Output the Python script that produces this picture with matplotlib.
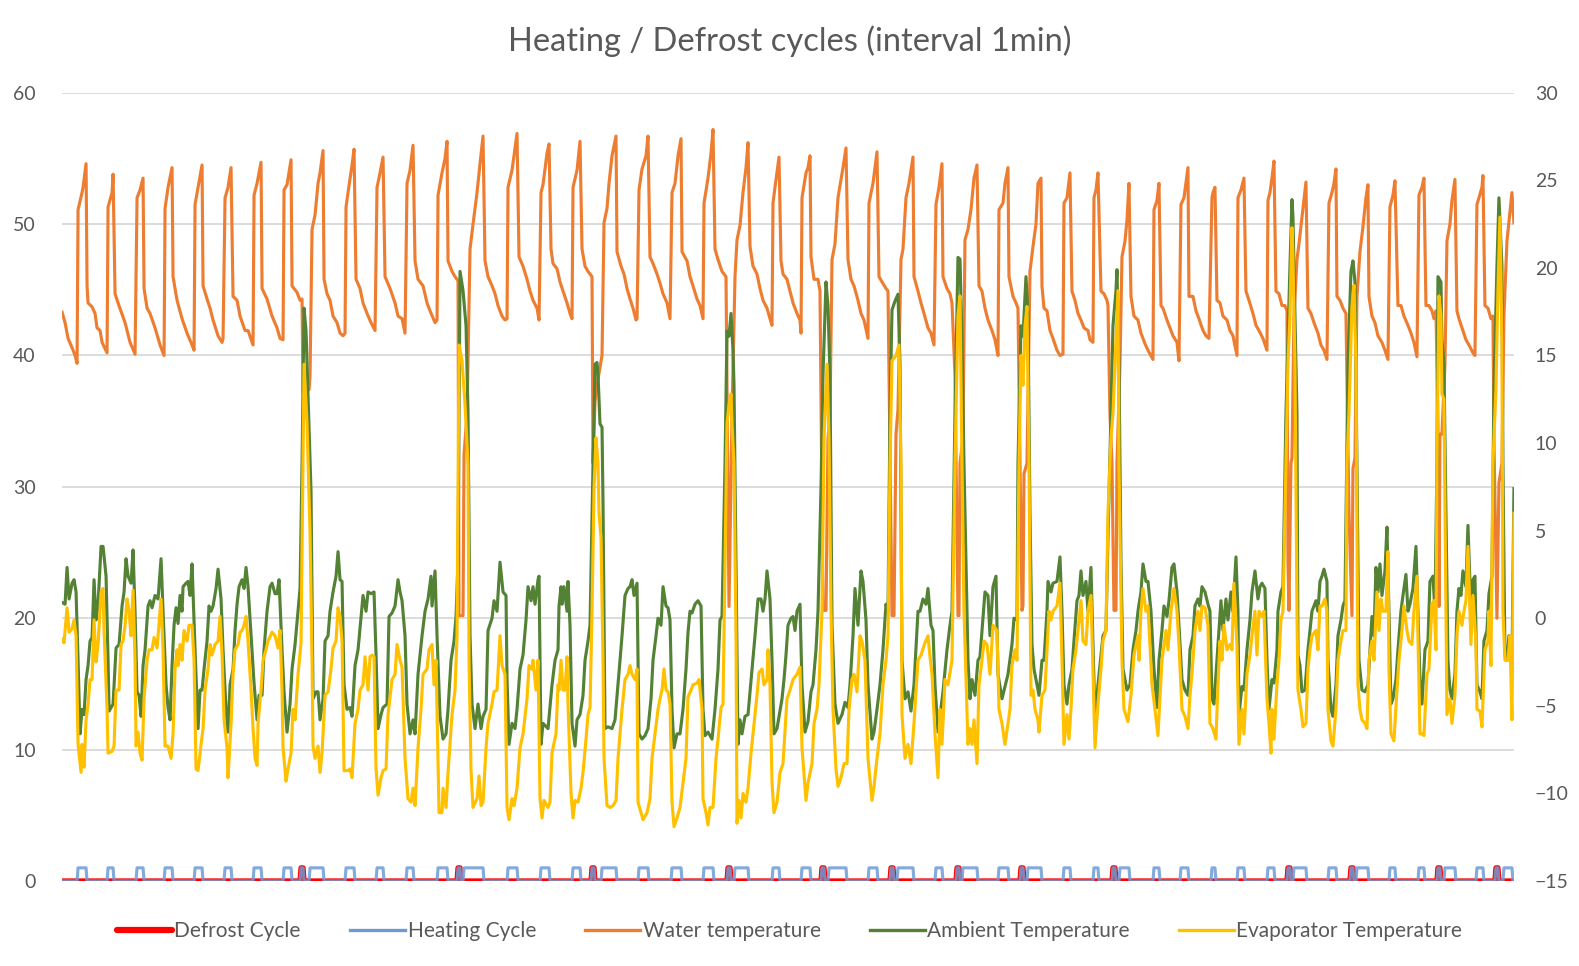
import numpy as np
import matplotlib
matplotlib.use("Agg")
import matplotlib.pyplot as plt
from matplotlib.lines import Line2D

plt.rcParams['font.family'] = ['Lato', 'DejaVu Sans']

# ==============================
# DATA (minute index, value)
# ==============================

N_MINUTES = 1452

# water temperature, left axis (degC)
water = [
    (0, 43.3), (3, 42.5), (6, 41.3), (10, 40.6), (13, 40.0), (15, 39.4),
    (16, 51.1), (20, 52.4), (21, 52.8), (24, 54.6),
    (25, 45.3), (26, 44.0), (30, 43.7), (33, 43.2), (35, 42.1), (38, 41.9), (40, 41.0), (45, 40.2),
    (46, 51.3), (50, 52.4), (51, 53.8),
    (53, 44.7), (56, 44.0), (63, 42.5), (68, 41.0), (73, 40.1),
    (75, 52.0), (78, 52.6), (81, 53.5),
    (82, 45.1), (85, 43.6), (88, 43.2), (93, 42.1), (98, 40.8), (102, 40.0),
    (103, 51.2), (106, 52.8), (110, 54.3),
    (111, 46.0), (115, 44.2), (120, 42.8), (125, 41.7), (130, 40.8), (132, 40.4),
    (133, 51.5), (136, 52.8), (140, 54.5),
    (141, 45.3), (145, 44.3), (148, 43.6), (151, 42.7), (156, 41.5), (160, 41.0), (161, 41.3),
    (163, 52.0), (166, 52.8), (169, 54.3),
    (171, 44.5), (175, 44.2), (178, 43.0), (183, 41.9), (186, 41.9), (190, 41.0), (191, 40.8),
    (192, 52.2), (195, 53.1), (199, 54.7),
    (200, 45.1), (205, 44.3), (210, 43.0), (215, 42.1), (218, 41.3), (221, 41.2),
    (222, 52.6), (225, 53.0), (229, 54.9),
    (230, 45.3), (235, 44.8), (238, 44.2), (240, 44.3),
    (241, 37.2), (247, 37.4), (248, 38.5), (250, 49.6), (253, 50.7), (256, 53.1), (258, 53.9), (261, 55.6),
    (262, 45.8), (265, 44.7), (268, 44.2), (271, 43.0), (275, 42.5), (278, 41.7), (281, 41.5), (283, 41.7),
    (284, 51.3), (286, 52.4), (290, 54.5), (292, 55.7),
    (294, 45.8), (298, 45.1), (301, 44.0), (305, 43.2), (309, 42.5), (313, 41.9),
    (315, 52.8), (318, 53.9), (321, 55.1),
    (323, 46.0), (328, 45.1), (333, 44.0), (336, 43.0), (340, 42.8), (343, 41.7),
    (345, 53.1), (348, 54.1), (351, 56.0),
    (353, 47.2), (356, 45.8), (361, 45.3), (365, 44.0), (368, 43.4), (373, 42.5), (375, 42.7),
    (376, 52.2), (380, 53.9), (383, 55.0), (385, 56.3),
    (386, 47.2), (390, 46.4), (393, 46.0), (396, 45.7),
    (397, 20.2), (401, 20.2), (402, 32.5), (405, 35.5), (408, 48.1), (411, 50.0), (415, 52.4), (418, 54.6), (421, 56.7),
    (423, 47.2), (426, 46.0), (430, 45.3), (433, 44.7), (436, 43.8), (440, 43.0), (443, 42.7), (445, 42.8),
    (446, 52.8), (450, 54.1), (453, 55.8), (455, 56.9),
    (457, 47.5), (461, 46.8), (465, 45.8), (468, 44.9), (471, 44.2), (475, 43.6), (477, 42.7),
    (479, 52.4), (481, 53.0), (485, 55.4), (487, 56.1),
    (489, 48.1), (491, 47.0), (495, 46.6), (498, 45.6), (501, 44.9), (505, 44.0), (508, 43.2), (510, 42.8),
    (511, 52.8), (515, 54.1), (518, 56.3),
    (520, 48.1), (523, 46.8), (526, 46.4), (530, 46.0),
    (531, 31.8), (533, 36.5), (536, 38.2), (540, 40.0), (542, 50.1), (545, 51.2), (547, 53.1), (550, 55.2), (554, 56.7),
    (555, 47.9), (559, 46.8), (562, 46.2), (565, 45.1), (568, 44.3), (571, 43.6), (574, 42.7), (575, 42.8),
    (577, 52.6), (580, 54.2), (584, 55.2), (586, 56.7),
    (588, 47.5), (591, 47.0), (595, 46.2), (598, 45.5), (601, 44.7), (605, 44.0), (608, 42.8),
    (610, 52.4), (613, 53.1), (616, 55.2), (619, 56.5),
    (620, 47.9), (625, 47.2), (628, 46.0), (631, 45.3), (635, 44.3), (638, 43.8), (641, 42.8),
    (642, 51.6), (646, 53.5), (649, 55.4), (651, 57.2),
    (653, 48.1), (656, 47.3), (660, 46.4), (664, 46.0),
    (667, 20.9), (670, 35.5), (673, 46.0), (675, 48.8), (678, 49.9), (681, 52.4), (684, 54.3), (686, 56.2),
    (688, 48.3), (691, 46.8), (695, 46.2), (698, 45.1), (701, 44.2), (705, 43.6), (708, 42.8), (710, 42.3),
    (711, 51.6), (713, 52.8), (717, 55.1),
    (719, 47.2), (721, 46.2), (725, 45.8), (728, 44.9), (731, 44.0), (735, 43.2), (738, 42.7), (739, 41.7),
    (740, 52.0), (744, 53.9), (746, 54.3), (748, 55.2),
    (749, 47.5), (752, 45.8), (756, 45.8), (758, 44.9),
    (761, 20.6), (764, 20.6), (766, 33.7), (768, 35.5), (770, 47.3), (773, 48.5), (776, 52.0), (781, 54.3), (784, 55.8),
    (786, 47.3), (789, 45.8), (792, 45.3), (796, 44.2), (799, 43.2), (802, 42.7), (806, 41.3),
    (807, 51.6), (811, 53.1), (813, 54.3), (815, 55.5),
    (817, 46.0), (820, 45.6), (824, 45.1), (826, 44.9),
    (830, 20.2), (832, 20.2), (834, 34.0), (836, 35.9), (839, 47.3), (841, 48.1), (844, 52.0), (847, 53.1), (851, 55.1),
    (852, 46.0), (856, 44.9), (859, 44.0), (862, 43.2), (866, 42.1), (869, 41.7), (872, 40.8),
    (874, 51.5), (877, 52.8), (880, 54.6),
    (881, 46.0), (885, 45.1), (888, 44.7), (890, 44.0),
    (893, 38.5), (896, 20.2), (897, 20.2), (898, 31.8), (901, 33.7), (903, 48.8), (906, 49.6), (909, 51.1), (912, 53.5), (915, 54.5),
    (917, 45.3), (920, 44.9), (923, 43.6), (926, 42.7), (930, 41.9), (933, 41.2), (936, 40.0),
    (937, 51.1), (941, 51.6), (943, 53.1), (946, 54.3),
    (947, 46.0), (951, 44.5), (954, 44.0), (956, 43.6),
    (960, 20.6), (961, 21.0), (962, 31.0), (965, 31.8), (968, 46.4), (971, 48.3), (974, 50.0), (976, 53.1), (979, 53.5),
    (980, 45.3), (982, 43.6), (985, 43.4), (988, 41.9), (991, 41.3), (995, 40.4), (998, 40.0), (1001, 40.1),
    (1002, 51.6), (1005, 52.0), (1008, 53.9),
    (1010, 44.9), (1013, 44.2), (1016, 43.2), (1019, 42.7), (1022, 42.1), (1026, 41.9), (1028, 41.2), (1031, 41.0),
    (1032, 52.0), (1034, 52.6), (1036, 53.9),
    (1039, 44.9), (1042, 44.7), (1045, 44.2), (1046, 43.8),
    (1048, 35.5), (1050, 31.8), (1052, 20.6), (1054, 20.6), (1055, 31.8), (1058, 39.3), (1060, 47.5), (1063, 48.7), (1065, 50.3), (1067, 53.1),
    (1069, 44.5), (1072, 43.0), (1076, 42.7), (1079, 41.7), (1083, 40.9), (1086, 40.4), (1091, 39.7),
    (1092, 51.1), (1095, 51.8), (1097, 53.1),
    (1099, 43.8), (1101, 43.6), (1105, 42.7), (1108, 42.1), (1111, 41.5), (1115, 41.0), (1117, 39.6),
    (1119, 51.5), (1122, 52.0), (1126, 54.3),
    (1127, 44.5), (1131, 44.5), (1134, 43.4), (1137, 42.8), (1141, 41.9), (1144, 41.5), (1147, 41.3),
    (1150, 52.0), (1151, 52.4), (1153, 52.8),
    (1155, 44.2), (1158, 44.0), (1161, 43.0), (1165, 42.7), (1168, 41.9), (1171, 41.5), (1175, 40.0),
    (1176, 52.0), (1179, 52.6), (1182, 53.5),
    (1184, 44.9), (1187, 44.2), (1191, 43.2), (1194, 42.3), (1197, 41.9), (1201, 41.3), (1205, 40.4),
    (1206, 51.8), (1208, 52.4), (1210, 53.5), (1212, 54.8),
    (1214, 44.9), (1217, 44.7), (1220, 43.8), (1223, 43.8), (1225, 43.4),
    (1226, 24.3), (1227, 20.6), (1229, 31.8), (1230, 32.2), (1232, 43.0), (1235, 47.3), (1237, 48.5), (1240, 50.5), (1244, 53.2),
    (1246, 43.6), (1249, 43.2), (1252, 42.5), (1256, 41.7), (1259, 40.8), (1262, 40.4), (1265, 39.7),
    (1267, 51.6), (1270, 52.4), (1272, 53.1), (1274, 54.2),
    (1275, 44.5), (1278, 44.2), (1281, 43.6), (1284, 43.2),
    (1287, 28.1), (1290, 20.2), (1291, 31.4), (1293, 32.2), (1295, 44.5), (1298, 47.9), (1301, 49.8), (1304, 52.0), (1306, 53.0),
    (1307, 44.5), (1310, 43.0), (1313, 42.5), (1316, 41.5), (1320, 41.0), (1323, 40.4), (1326, 39.7),
    (1328, 51.3), (1331, 52.2), (1333, 53.3),
    (1336, 43.8), (1339, 43.8), (1342, 43.0), (1346, 42.3), (1349, 41.7), (1352, 41.0), (1355, 39.9),
    (1357, 52.2), (1360, 52.8), (1362, 53.5),
    (1364, 43.8), (1367, 43.8), (1370, 43.4), (1372, 42.8), (1374, 43.4),
    (1376, 34.8), (1377, 20.9), (1378, 34.0), (1380, 34.0), (1383, 39.3), (1385, 48.7), (1388, 50.0), (1390, 51.8), (1393, 53.4),
    (1395, 43.4), (1397, 42.8), (1401, 41.9), (1404, 41.2), (1407, 40.8), (1411, 40.2), (1413, 40.0),
    (1415, 51.5), (1417, 52.0), (1420, 52.8), (1421, 53.7),
    (1423, 43.8), (1426, 43.6), (1429, 42.8), (1431, 43.0),
    (1432, 33.7), (1435, 20.0), (1437, 30.3), (1440, 31.8), (1442, 43.0), (1445, 48.7), (1448, 50.9), (1450, 52.4), (1452, 50.1),
]

# ambient temperature, right axis (degC)
ambient = [
    (0, 0.9), (3, 0.8), (5, 2.9), (7, 1.1), (10, 2.0), (12, 2.2), (14, 1.5), (16, -2.4), (18, -6.6), (20, -5.2),
    (22, -5.5), (24, -3.5), (26, -2.7), (28, -1.3), (30, -1.1), (32, 2.2), (34, -0.1), (36, 0.8), (39, 4.1), (41, 4.1),
    (44, 2.4), (46, -2.4), (47, -5.3), (51, -4.9), (54, -1.7), (57, -1.5), (60, 0.7), (62, 1.5), (64, 3.4), (66, 2.4),
    (69, 2.0), (71, 3.9), (73, 0.4), (75, -4.2), (77, -4.4), (79, -5.6), (81, -2.7), (83, -1.8), (86, 0.7), (88, 1.0),
    (90, 0.6), (93, 1.3), (96, 1.1), (99, 3.4), (101, 0.4), (104, -3.8), (106, -5.1), (108, -5.8), (110, -2.7), (112, -0.4),
    (114, 0.6), (116, -0.3), (118, 1.3), (120, 0.4), (121, 1.8), (124, 2.0), (126, 2.1), (128, 1.3), (130, 3.1), (133, -1.8),
    (136, -6.3), (138, -4.1), (140, -4.1), (142, -2.9), (145, -1.3), (147, 0.7), (149, 0.4), (151, 0.7), (154, 1.7), (156, 2.8),
    (159, 1.1), (161, -1.8), (164, -5.2), (166, -6.5), (168, -3.8), (171, -2.9), (173, -0.7), (175, 0.8), (177, 1.8), (180, 2.2),
    (182, 1.7), (184, 2.9), (186, 1.8), (190, -1.8), (192, -3.7), (195, -5.8), (197, -4.4), (200, -4.4), (202, -1.8), (205, 0.4),
    (208, 1.8), (210, 2.0), (213, 1.4), (215, 1.4), (217, 2.2), (220, -1.8), (222, -4.2), (225, -6.5), (228, -4.9), (230, -2.9),
    (233, -1.5), (236, 0.4), (238, 1.7),
    (240, 8.8), (242, 17.7), (244, 16.4), (246, 12.8), (249, 7.2), (251, -4.6), (254, -4.2), (256, -4.2), (258, -5.8), (261, -4.6),
    (263, -1.3), (266, -1.0), (268, 0.4), (271, 1.5), (274, 2.4), (276, 3.8), (278, 2.2), (280, 2.1), (282, -3.8), (285, -5.2),
    (288, -5.1), (290, -5.6), (293, -2.7), (296, -1.8), (299, 0.1), (301, 1.3), (304, 0.4), (306, 1.5), (309, 1.4), (312, 1.5),
    (314, -2.1), (316, -6.3), (319, -5.5), (321, -5.1), (325, -4.9), (327, 0.1), (330, 0.3), (333, 0.7), (336, 2.2), (338, 1.5),
    (340, 1.0), (343, -1.0), (345, -4.9), (348, -6.6), (351, -5.8), (353, -6.6), (356, -3.2), (358, -2.1), (360, -1.0), (363, 0.4),
    (366, 1.1), (369, 2.4), (370, 0.7), (373, 2.7), (375, -1.0), (378, -5.6), (381, -6.9), (384, -6.6), (386, -5.2), (389, -2.4),
    (392, -1.3), (394, 0.1), (396, 3.2), (398, 19.8), (401, 18.7), (404, 16.7), (406, 11.7), (408, -1.0), (410, -4.9), (413, -6.3),
    (416, -4.9), (419, -6.3), (421, -5.6), (424, -5.2), (426, -0.7), (430, 0.0), (432, 1.0), (435, 0.4), (438, 3.2), (441, 1.5),
    (444, 1.3), (445, -3.5), (447, -7.2), (450, -6.0), (453, -6.3), (455, -5.2), (458, -2.9), (461, -2.1), (464, -0.1), (466, 1.8),
    (469, 1.0), (471, 1.8), (473, 0.8), (476, 2.2), (477, 2.4),
    (479, -7.2), (481, -6.0), (486, -6.3), (490, -3.8), (493, -2.4), (496, -1.8), (497, 0.7), (499, 1.8), (500, 0.8), (502, 1.8),
    (505, 0.4), (506, 2.1), (508, -0.4), (510, -6.0), (513, -7.3), (515, -5.8), (518, -5.5), (521, -4.4), (523, -2.4), (526, -1.3),
    (528, -0.4), (531, 8.8), (533, 14.5), (535, 14.6), (536, 13.9), (538, 11.1), (540, 10.9), (541, 6.6), (543, -6.3), (546, -6.2),
    (550, -6.3), (553, -5.8), (556, -3.8), (558, -2.4), (560, -1.0), (563, 1.3), (566, 1.7), (568, 1.8), (570, 2.2), (572, 1.3),
    (575, 2.0), (577, -6.6), (580, -6.9), (583, -6.7), (586, -6.3), (589, -4.6), (591, -2.4), (594, -1.0), (596, 0.0), (599, -0.4),
    (601, 1.8), (604, 0.7), (606, 0.6), (608, -0.1), (610, -5.2), (612, -7.4), (615, -6.6), (618, -6.6), (621, -5.2), (624, -2.9),
    (626, -0.8), (628, 0.4), (630, 0.3), (633, 0.8), (636, 1.0), (639, 0.7), (641, -5.2), (643, -6.7), (646, -6.5), (650, -6.9),
    (653, -5.2), (656, -2.9), (658, -0.1), (660, 0.1), (663, 8.8), (665, 16.4), (667, 16.1), (669, 17.4), (671, 15.3), (672, 13.3),
    (674, 3.2), (676, -7.2), (678, -5.8), (680, -6.6), (683, -5.6), (686, -5.5), (690, -2.9), (693, -1.0), (696, 1.1), (699, 1.1),
    (701, 0.4), (703, 1.1), (705, 2.7), (708, 1.1), (710, -2.4), (712, -6.6), (715, -6.3),
    (720, -4.6), (722, -3.5), (724, -2.1), (726, -0.4), (729, 0.0), (731, 0.1), (733, -0.7), (735, 0.4), (738, 0.8), (740, -3.8),
    (743, -6.5), (746, -5.9), (749, -4.2), (751, -3.8), (754, -1.8), (756, 0.4), (759, 7.4), (761, 13.9), (764, 19.2), (766, 17.8),
    (768, 13.9), (770, -0.4), (773, -4.9), (776, -6.0), (780, -5.5), (783, -4.8), (786, -5.1), (788, -3.8), (791, -1.0), (793, 1.7),
    (796, -0.4), (799, 2.7), (801, 2.1), (804, -0.1), (806, -3.8), (810, -6.9), (812, -6.5), (815, -5.2), (818, -3.8), (821, -1.8),
    (824, 0.8), (826, 0.4), (828, 11.7), (830, 17.6), (833, 18.1), (836, 18.5), (838, 14.5), (840, -2.4), (843, -4.6), (846, -4.2),
    (849, -5.3), (852, -3.8), (856, 0.4), (858, 0.4), (861, 1.1), (864, 0.8), (866, 1.7), (869, -0.4), (871, -0.7), (873, -3.8),
    (876, -6.5), (879, -5.1), (881, -4.2), (885, -1.8), (888, -0.4), (890, 0.4), (893, 11.7), (896, 20.6), (898, 20.5), (900, 15.9),
    (902, 8.8), (906, -2.4), (908, -4.6), (910, -3.5), (913, -4.4), (916, -2.4), (918, -2.2), (920, -0.7), (923, 1.5), (926, 1.3),
    (928, -1.0), (931, 1.8), (934, 2.4), (936, -3.2), (940, -4.6), (943, -3.9), (946, -3.2), (950, -1.5), (952, 0.0), (955, -0.1),
    (956, 8.8), (959, 16.7), (961, 16.1), (964, 19.5), (966, 17.3), (968, 6.0), (970, -1.5), (972, -2.9), (975, -3.8), (977, -4.4),
    (980, -2.4), (982, -2.4), (985, 0.4), (986, 2.1), (989, 1.5), (991, 2.0), (995, 2.1), (998, 3.5), (1000, 0.4), (1002, -3.8),
    (1005, -4.9), (1007, -3.8), (1010, -2.9), (1012, -1.3), (1015, 1.0), (1017, 1.3), (1019, 2.7), (1021, 1.3), (1024, 2.1), (1026, 0.4),
    (1029, 2.9), (1031, -1.5), (1033, -5.8), (1036, -3.8), (1039, -2.1), (1041, -1.0), (1044, -0.7), (1046, 4.6), (1049, 11.7), (1051, 16.7),
    (1054, 18.7), (1055, 19.9), (1057, 14.5), (1059, 3.2), (1061, -2.9), (1065, -4.1), (1068, -3.8), (1071, -1.8), (1074, -0.7), (1076, 0.4),
    (1079, 1.5), (1081, 3.1), (1084, 2.1), (1086, 2.1), (1089, 0.4), (1092, -2.9), (1095, -5.1), (1097, -2.4), (1100, -0.7), (1102, 0.7),
    (1105, 0.1), (1107, 1.0), (1110, 2.9), (1112, 3.1), (1115, 1.5), (1117, -0.4), (1120, -3.5), (1123, -4.1), (1126, -4.4), (1128, -1.8),
    (1131, -1.0), (1133, 0.7), (1136, 1.1), (1138, 0.7), (1140, 1.8), (1143, 1.5), (1146, 0.8), (1148, 0.4), (1150, -4.6), (1152, -4.9),
    (1155, -2.4), (1157, -0.7), (1159, 1.0), (1161, -0.7), (1164, 1.1), (1166, -0.1), (1169, 1.5), (1171, 0.4), (1174, 3.5), (1176, 0.4),
    (1177, -5.5), (1180, -3.9), (1182, -4.1), (1185, -1.8), (1188, -0.1), (1190, 1.5), (1193, 2.7),
    (1196, 1.1), (1198, 1.8), (1200, 2.0), (1203, 1.7), (1205, -2.4), (1207, -5.2), (1210, -3.5), (1212, -3.7), (1215, -1.8), (1216, 0.4),
    (1219, 1.5), (1221, 1.8), (1224, 11.7), (1226, 15.9), (1228, 20.1), (1230, 23.9), (1231, 22.9), (1233, 17.3), (1235, 11.7), (1236, -2.1),
    (1238, -2.7), (1240, -4.2), (1243, -4.1), (1246, -1.8), (1248, -0.7), (1250, 0.4), (1254, 1.0), (1256, 0.4), (1258, 2.1), (1260, 2.4),
    (1262, 2.8), (1265, 2.1), (1266, -2.4), (1269, -5.2), (1271, -5.6), (1274, -3.8), (1276, -1.0), (1279, -0.1), (1281, 0.7), (1283, 1.0),
    (1285, 10.3), (1286, 14.5), (1289, 19.8), (1291, 20.4), (1293, 19.2), (1295, 8.8), (1297, -2.4), (1300, -4.1), (1303, -4.2), (1306, -3.8),
    (1308, -1.8), (1310, 0.1), (1312, -1.0), (1314, 2.9), (1316, 1.5), (1318, 3.1), (1320, 1.3), (1323, 2.7), (1325, 5.2), (1327, 0.4),
    (1329, -4.9), (1331, -4.6), (1334, -3.5), (1336, -1.8), (1339, 0.4), (1341, 1.3), (1344, 2.5), (1346, 0.4), (1348, 0.8), (1351, 1.7),
    (1354, 4.1), (1356, 0.4), (1358, -3.5), (1360, -4.9), (1363, -1.8), (1366, -1.3), (1368, 2.1), (1371, 2.4), (1373, 0.4), (1375, 8.8),
    (1376, 19.5), (1379, 19.2), (1380, 15.9), (1382, 14.5), (1384, 6.0), (1386, -2.4), (1388, -4.1), (1390, -4.6), (1393, -3.2), (1395, 0.4),
    (1397, 1.7), (1399, 1.3), (1401, 2.7), (1404, 1.8), (1406, 5.3), (1409, 0.4), (1411, 2.2), (1413, 2.4), (1415, -3.8), (1418, -4.2),
    (1420, -4.6), (1422, -1.3), (1425, -0.7), (1427, 1.4), (1430, 2.4), (1432, 13.1), (1435, 20.1), (1437, 24.0), (1440, 20.1), (1441, 8.8),
    (1443, -2.1), (1445, -2.4), (1447, -1.0), (1450, -2.9), (1452, 7.4),
]

# evaporator temperature, right axis (degC)
evaporator = [
    (0, -1.2), (2, -1.4), (5, 0.6), (7, -0.8), (10, -0.6), (12, -0.1), (14, -1.0), (16, -7.2), (19, -8.8), (20, -7.2),
    (22, -8.5), (24, -5.8), (26, -4.9), (28, -3.5), (30, -3.5), (32, -0.1), (34, -2.5), (36, -1.5), (39, 1.5), (41, 1.7),
    (42, -0.7), (45, -5.2), (46, -7.7), (50, -7.6), (52, -7.3), (54, -4.1), (57, -4.1), (59, -1.5), (61, -1.3), (63, -0.4),
    (65, 1.1), (67, 0.4), (69, -1.0), (71, 1.6), (73, -2.4), (74, -7.3), (76, -6.5), (78, -7.7), (80, -8.1), (82, -4.6),
    (85, -2.4), (87, -1.8), (90, -1.8), (92, -1.1), (95, -1.7), (96, -1.0), (99, 1.1), (101, -1.8), (103, -7.3), (106, -7.3),
    (109, -8.0), (111, -6.6), (113, -2.9), (115, -1.8), (116, -2.7), (118, -1.5), (120, -2.4), (122, -0.7), (125, -1.3), (127, -0.4),
    (130, -0.4), (132, -2.4), (134, -8.6), (136, -8.7), (139, -7.2), (141, -6.3), (143, -4.1), (146, -2.9), (148, -1.5), (150, -2.1),
    (153, -1.5), (156, -1.3), (158, 0.1), (160, -2.1), (162, -5.8), (165, -7.4), (166, -9.1), (169, -6.0), (171, -3.2), (173, -1.8),
    (176, -1.5), (178, -0.8), (180, -0.7), (182, -0.4), (184, 0.1), (186, -1.3), (189, -4.1), (191, -6.3), (193, -8.0), (195, -8.4),
    (196, -6.0), (199, -4.1), (201, -2.4), (204, -1.8), (206, -1.3), (210, -0.8), (213, -1.0), (216, -1.7), (218, -0.7), (220, -4.1),
    (221, -7.4), (224, -9.3), (226, -8.6), (229, -7.7), (231, -5.2),
    (233, -5.8), (236, -3.2), (239, -1.4), (240, 4.1), (242, 14.5), (245, 11.1), (248, 4.9), (250, -2.4), (251, -7.3), (253, -8.0),
    (256, -7.3), (258, -8.8), (260, -7.7), (263, -4.4), (266, -4.2), (269, -2.9), (271, -1.7), (274, -1.3), (276, 0.6), (278, 0.1),
    (280, -1.3), (282, -8.7), (286, -8.7), (288, -8.6), (290, -9.1), (293, -6.0), (296, -5.2), (298, -4.1), (301, -3.8), (303, -2.2),
    (306, -4.1), (308, -2.2), (310, -2.1), (312, -2.2), (314, -8.6), (316, -10.1), (319, -9.1), (321, -8.7), (324, -8.6), (326, -5.5),
    (330, -3.5), (333, -3.2), (335, -1.5), (338, -2.4), (340, -2.8), (343, -8.0), (346, -10.3), (349, -10.5), (351, -9.7), (353, -10.7),
    (356, -7.4), (359, -5.2), (361, -3.2), (365, -2.9), (367, -1.8), (370, -1.5), (372, -3.8), (374, -2.4), (376, -8.0), (377, -11.1),
    (380, -11.1), (381, -9.7), (384, -10.8), (386, -8.8), (390, -5.5), (393, -4.1), (395, -1.0), (397, 15.6), (400, 14.7), (403, 12.2),
    (406, 8.8), (407, -2.4), (409, -8.7), (411, -10.8), (415, -10.3), (417, -9.0), (419, -10.7), (421, -10.5), (424, -7.4), (426, -6.0),
    (430, -4.9), (432, -4.2), (435, -4.1), (438, -1.0), (440, -2.7), (443, -3.2), (445, -10.8), (447, -11.5), (450, -10.3), (452, -10.7),
    (455, -9.7), (458, -7.4), (461, -6.6), (465, -4.6), (467, -2.7), (470, -2.9), (471, -2.4), (474, -4.1), (476, -2.4),
    (478, -10.3), (480, -11.4), (482, -10.4), (486, -10.8), (488, -10.5), (490, -7.7), (491, -7.4), (494, -6.6), (496, -3.8), (497, -4.1),
    (499, -2.4), (501, -4.1), (503, -4.1), (505, -2.2), (506, -4.9), (509, -10.0), (511, -11.4), (513, -10.4), (516, -10.5), (519, -9.7),
    (521, -8.8), (524, -6.9), (526, -5.5), (528, -5.1), (530, 0.4), (532, 7.4), (534, 10.3), (536, 8.8), (537, 6.0), (539, 4.6),
    (541, -2.4), (542, -8.0), (545, -10.7), (548, -10.8), (551, -10.7), (554, -10.4), (556, -8.0), (558, -6.6), (560, -5.2), (563, -3.5),
    (566, -3.2), (568, -2.7), (570, -3.2), (573, -3.5), (575, -2.9), (576, -10.5), (579, -11.1), (581, -11.5), (585, -11.1), (588, -10.3),
    (590, -8.0), (593, -6.6), (596, -5.2), (598, -4.6), (600, -4.1), (602, -2.9), (604, -4.1), (606, -4.2), (608, -4.9), (610, -10.5),
    (612, -11.9), (615, -11.4), (618, -10.8), (621, -9.4), (624, -8.0), (626, -4.5), (629, -4.1), (631, -3.8), (635, -3.7), (637, -3.5),
    (640, -5.2), (641, -10.3), (644, -11.1), (646, -11.8), (648, -10.8), (651, -10.8), (654, -8.0), (656, -6.9), (659, -5.1), (661, -4.9),
    (663, 3.2), (665, 11.1), (667, 12.2), (669, 12.8), (670, 11.1), (672, 8.8), (674, -1.0), (675, -11.7), (677, -10.4), (679, -11.4),
    (681, -10.0), (684, -10.5), (686, -9.7), (689, -7.7), (691, -6.6), (695, -4.4), (697, -3.1), (700, -2.9), (702, -3.8), (705, -3.5),
    (706, -1.8), (708, -3.8), (710, -9.4), (712, -11.1), (715, -10.5),
    (718, -8.8), (721, -8.3), (725, -4.6), (728, -4.1), (731, -3.5), (735, -3.2), (738, -2.8), (740, -7.4), (744, -10.4), (746, -9.4),
    (750, -8.3), (752, -6.0), (755, -5.2), (757, -3.8), (760, 0.4), (762, 10.3), (765, 14.5), (767, 10.3), (769, 0.4), (771, -5.2),
    (774, -8.6), (776, -9.6), (779, -9.1), (782, -8.3), (785, -8.3), (787, -5.2), (790, -3.5), (792, -3.2), (795, -4.2), (798, -1.0),
    (800, -1.3), (803, -2.4), (806, -8.0), (810, -10.4), (812, -9.6), (815, -8.0), (818, -6.6), (821, -3.8), (824, -2.4), (826, -1.0),
    (828, 8.8), (830, 14.7), (834, 15.0), (837, 15.6), (839, 8.8), (840, -5.5), (843, -8.0), (846, -7.2), (849, -8.3), (852, -6.0),
    (856, -2.4), (859, -2.1), (863, -1.4), (866, -1.0), (868, -2.2), (870, -3.2), (873, -6.6), (876, -9.1), (878, -5.2), (880, -7.2),
    (883, -3.5), (886, -3.8), (890, -2.4), (893, 8.8), (896, 17.3), (898, 18.4), (900, 8.8), (902, 0.4), (906, -7.2), (908, -6.3),
    (910, -7.2), (912, -5.8), (915, -8.3), (917, -3.8), (920, -2.4), (922, -1.3), (925, -1.5), (928, -3.2), (931, -0.4), (935, -0.7),
    (937, -5.2), (940, -6.0), (943, -7.2), (946, -6.0), (948, -5.2), (950, -2.7), (953, -1.8), (955, -2.4),
    (957, 8.8), (959, 15.0), (961, 13.3), (963, 16.7), (965, 17.8), (967, 8.8), (969, -4.4), (971, -4.1), (973, -5.2), (976, -5.8),
    (977, -6.5), (980, -4.4), (983, -4.1), (985, -1.8), (987, 0.4), (989, -0.1), (991, 0.4), (995, 0.7), (998, 2.0), (1000, -2.4),
    (1002, -7.2), (1005, -5.5), (1007, -6.9), (1009, -5.2), (1011, -2.9), (1014, -1.8), (1016, -0.7), (1019, 1.0), (1021, -1.3), (1024, -1.5),
    (1026, 0.4), (1029, 1.3), (1031, -2.9), (1033, -7.4), (1036, -4.9), (1039, -2.9), (1041, -1.3), (1044, -0.7), (1046, 6.0), (1049, 10.3),
    (1051, 11.7), (1054, 15.9), (1056, 18.7), (1057, 8.8), (1060, -2.4), (1062, -5.2), (1066, -5.9), (1069, -4.4), (1072, -2.1), (1076, -1.0),
    (1077, -2.4), (1079, 0.4), (1081, 1.7), (1084, 0.4), (1086, 0.7), (1090, -3.8), (1093, -5.2), (1096, -6.7), (1098, -4.6), (1100, -2.4),
    (1104, -0.7), (1106, -1.8), (1109, 0.4), (1112, 1.7), (1115, 0.4), (1117, -1.5), (1120, -5.2), (1123, -5.6), (1126, -6.3), (1128, -4.4),
    (1130, -3.2), (1133, -0.7), (1136, 0.4), (1138, -0.7), (1140, 0.7), (1143, 0.6), (1146, -0.4), (1148, -6.0), (1151, -6.3), (1154, -6.9),
    (1156, -3.8), (1158, -1.3), (1160, -2.4), (1162, -0.4), (1165, -1.8), (1168, -1.5), (1170, -1.8), (1172, 2.0), (1175, -1.5), (1177, -7.2),
    (1180, -5.2), (1182, -6.6), (1185, -3.2), (1188, -2.1), (1190, -1.0), (1193, 0.4),
    (1195, -2.1), (1197, 0.4), (1200, 0.1), (1202, 0.4), (1205, -4.6), (1207, -6.0), (1209, -7.7), (1210, -5.2), (1212, -6.9), (1215, -3.8),
    (1217, -2.4), (1219, -0.1), (1221, 0.4), (1224, 8.8), (1226, 14.5), (1228, 17.3), (1230, 22.3), (1231, 20.6), (1233, 14.5), (1235, 0.4),
    (1236, -4.1), (1239, -5.2), (1241, -6.2), (1244, -6.0), (1246, -2.9), (1248, -1.8), (1250, -1.0), (1254, -0.7), (1256, -1.8), (1258, 0.7),
    (1260, 0.7), (1263, 1.1), (1265, 0.4), (1266, -5.2), (1269, -7.0), (1271, -7.3), (1274, -5.2), (1276, -2.4), (1279, -1.3), (1281, -0.7),
    (1284, -0.7), (1285, 8.8), (1287, 11.7), (1290, 17.8), (1292, 19.0), (1294, 14.5), (1296, -3.8), (1298, -5.2), (1300, -5.8), (1303, -6.0),
    (1305, -6.3), (1307, -2.4), (1310, -1.3), (1312, -2.4), (1315, 1.5), (1317, -0.7), (1319, 1.1), (1321, 0.4), (1324, 0.4), (1326, 3.8),
    (1327, -2.9), (1329, -6.6), (1332, -7.0), (1335, -4.1), (1337, -2.4), (1340, -0.7), (1342, 0.7), (1345, -0.7), (1347, -1.3), (1350, -1.5),
    (1352, 0.4), (1355, 2.4), (1356, -1.0), (1358, -6.6), (1360, -6.6), (1362, -6.7), (1365, -3.2), (1367, -2.9), (1370, 0.8), (1372, 1.0),
    (1374, -1.8), (1375, 8.8), (1377, 18.4), (1379, 17.3), (1380, 12.8), (1382, 12.5), (1384, 0.4), (1385, -5.5), (1388, -4.6), (1390, -6.0),
    (1393, -4.4), (1395, -1.0), (1397, 0.4), (1400, -0.4), (1402, 0.4), (1404, 1.0), (1406, 4.1), (1409, -1.5), (1411, 1.3), (1414, -1.3),
    (1415, -5.2), (1418, -5.3), (1420, -6.2), (1423, -1.8), (1426, -1.3), (1427, 0.4), (1429, -2.7), (1431, 8.8), (1434, 13.1), (1436, 18.7),
    (1438, 22.9), (1440, 15.9), (1441, 0.4), (1443, -2.4), (1446, -2.4), (1448, -1.0), (1450, -5.8), (1452, 6.0),
]

# heating cycle on / off minutes (value 1 while on)
heat_on = [16, 46, 75, 103, 133, 163, 192, 222, 239, 248, 284, 315, 345, 376, 396, 402, 446, 479, 511,
           530, 540, 577, 610, 642, 666, 673, 711, 740, 760, 767, 807, 829, 836, 874, 895, 901, 937,
           959, 966, 1002, 1032, 1051, 1058, 1092, 1119, 1150, 1176, 1206, 1226, 1232, 1267, 1289, 1295,
           1328, 1357, 1376, 1383, 1415, 1434, 1442]
heat_off = [24, 51, 81, 110, 140, 169, 199, 229, 241, 261, 292, 321, 351, 385, 398, 421, 455, 487, 518,
            532, 554, 586, 619, 651, 668, 686, 717, 748, 762, 784, 815, 831, 851, 880, 897, 915, 946,
            961, 979, 1008, 1036, 1053, 1067, 1097, 1126, 1153, 1182, 1212, 1228, 1244, 1274, 1291, 1306,
            1333, 1362, 1378, 1393, 1421, 1436, 1450]

# defrost cycles (centre minute, value 1)
defrost_mid = [240, 397, 531, 667, 761, 830, 896, 960, 1052, 1227, 1290, 1377, 1435]

LEFT_TICKS = [0, 10, 20, 30, 40, 50, 60]
RIGHT_TICKS = [-15, -10, -5, 0, 5, 10, 15, 20, 25, 30]

C_DEFROST = "#FF0000"
C_HEAT = "#6E9BD6"
C_WATER = "#ED7D31"
C_AMB = "#548235"
C_EVAP = "#FFC000"
C_TEXT = "#595959"
C_GRID = "#D9D9D9"


def pulse_series(starts, ends):
    xs, ys = [0], [0]
    for a, b in zip(starts, ends):
        xs += [a - 1, a, b, b + 1]
        ys += [0, 1, 1, 0]
    xs.append(N_MINUTES)
    ys.append(0)
    return xs, ys


heat_x, heat_y = pulse_series(heat_on, heat_off)
def_x, def_y = pulse_series([m - 1 for m in defrost_mid], [m + 1 for m in defrost_mid])

water_t, water_v = np.array(water).T
amb_t, amb_v = np.array(ambient).T
evap_t, evap_v = np.array(evaporator).T

# ==============================
# PLOT
# ==============================

fig = plt.figure(figsize=(15.79, 9.66), dpi=100)
ax = fig.add_axes([0.0393, 0.088, 0.9195, 0.816])
ax2 = ax.twinx()

LW = 2.25

ax.plot(def_x, def_y, color=C_DEFROST, lw=3.8, solid_joinstyle="round", solid_capstyle="round", zorder=2)
ax.plot(heat_x, heat_y, color=C_HEAT, lw=LW, alpha=0.85, zorder=3)
ax.plot(water_t, water_v, color=C_WATER, lw=LW, zorder=4)

ax2.plot(amb_t, amb_v, color=C_AMB, lw=LW)
ax2.plot(evap_t, evap_v, color=C_EVAP, lw=LW)

ax.set_xlim(0, N_MINUTES)
ax.set_ylim(0, 60)
ax2.set_ylim(-15, 30)
ax.set_yticks(LEFT_TICKS)
ax2.set_yticks(RIGHT_TICKS)
ax.set_xticks([])

for a in (ax, ax2):
    for s in a.spines.values():
        s.set_visible(False)
    a.tick_params(axis="y", length=0, labelsize=14, labelcolor=C_TEXT)
ax.tick_params(axis="y", pad=19)
ax2.tick_params(axis="y", pad=15)

ax.grid(axis="y", color=C_GRID, lw=1.3)
ax.set_axisbelow(True)

fig.text(0.5, 0.957, "Heating / Defrost cycles (interval 1min)", ha="center", va="center",
         fontsize=23.5, color=C_TEXT)

handles = [
    Line2D([], [], color=C_DEFROST, lw=4.5, solid_capstyle="round"),
    Line2D([], [], color=C_HEAT, lw=2.4),
    Line2D([], [], color=C_WATER, lw=2.4),
    Line2D([], [], color=C_AMB, lw=2.4),
    Line2D([], [], color=C_EVAP, lw=2.4),
]
labels = ["Defrost Cycle", "Heating Cycle", "Water temperature", "Ambient Temperature", "Evaporator Temperature"]
leg = fig.legend(handles, labels, loc="center", bbox_to_anchor=(0.5, 0.036), ncol=5, frameon=False,
                 fontsize=15, handlelength=2.65, handletextpad=0.12, columnspacing=2.35)
for t in leg.get_texts():
    t.set_color(C_TEXT)

fig.savefig("out.png", dpi=100)
